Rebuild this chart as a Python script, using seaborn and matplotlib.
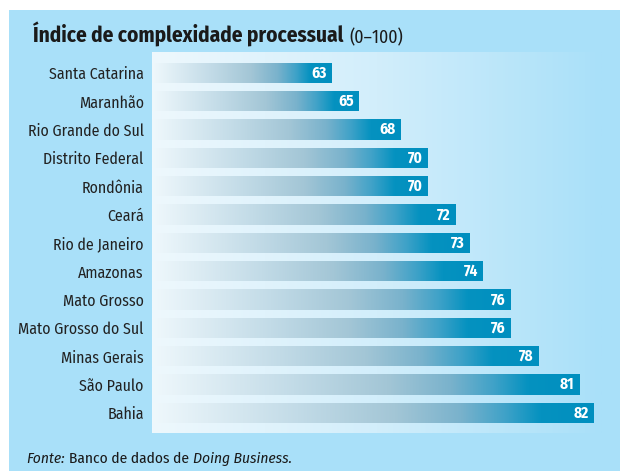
import matplotlib
matplotlib.use('Agg')
import matplotlib.pyplot as plt
import numpy as np
import pandas as pd
import seaborn as sns
from matplotlib import font_manager as fm
from matplotlib.colors import LinearSegmentedColormap
from matplotlib.patches import Rectangle

# dados
estados = [
    'Santa Catarina', 'Maranhão', 'Rio Grande do Sul', 'Distrito Federal',
    'Rondônia', 'Ceará', 'Rio de Janeiro', 'Amazonas', 'Mato Grosso',
    'Mato Grosso do Sul', 'Minas Gerais', 'São Paulo', 'Bahia',
]
indice = [63, 65, 68, 70, 70, 72, 73, 74, 76, 76, 78, 81, 82]

BG = '#a9e0f9'
W, H = 620, 471

df = pd.DataFrame({'Estado': estados, 'Indice': indice})

# fonte estreita parecida com Frutiger Condensed, se houver
disponiveis = {f.name for f in fm.fontManager.ttflist}
preferidas = ['Fira Sans Condensed', 'Roboto Condensed', 'Open Sans Condensed',
              'Asap Condensed', 'Encode Sans Condensed', 'PT Sans Narrow',
              'Liberation Sans Narrow']
familia = [f for f in preferidas if f in disponiveis][:1] + ['DejaVu Sans']

sns.set_theme(style='white')
plt.rcParams['font.family'] = familia

fig = plt.figure(figsize=(W / 100, H / 100), dpi=100, facecolor='white')
# painel azul de fundo
fig.patches.append(Rectangle((9 / W, 0), 1, (H - 10) / H, transform=fig.transFigure,
                             facecolor=BG, edgecolor='none', zorder=-5))

ax = fig.add_axes([152 / W, (H - 433) / H, (602 - 152) / W, (433 - 52) / H])
ax.set_facecolor('none')

sns.barplot(data=df, x='Indice', y='Estado', orient='h', width=0.72,
            color='#0090c0', ax=ax, zorder=2)

xmin, xmax = 50, 82.63

# gradiente do painel interno
panel_cmap = LinearSegmentedColormap.from_list('panel', ['#eef8fd', '#d2eefb', BG])
ax.imshow(np.linspace(0, 1, 256).reshape(1, -1), cmap=panel_cmap, aspect='auto',
          extent=[xmin, xmax, 12.71, -0.74], zorder=0)

bar_cmap = LinearSegmentedColormap.from_list('bar', [
    (0.0, '#eff8fc'), (0.33, '#c2dbe7'), (0.55, '#a3c6d6'),
    (0.70, '#79b2cc'), (0.80, '#3fa2c8'), (0.88, '#0592c0'), (1.0, '#008fbf'),
])
grad = np.linspace(0, 1, 256).reshape(1, -1)
for p in list(ax.patches):
    x0, y0 = p.get_x(), p.get_y()
    w, h = p.get_width(), p.get_height()
    p.set_facecolor('none')
    p.set_edgecolor('none')
    im = ax.imshow(grad, cmap=bar_cmap, aspect='auto',
                   extent=[xmin, x0 + w, y0 + h, y0], zorder=2)
    im.set_clip_path(p)

for i, v in enumerate(indice):
    ax.text(v - 0.35, i, str(v), ha='right', va='center', color='white',
            fontweight='bold', fontsize=11, zorder=3)

ax.set_xlim(xmin, xmax)
ax.set_ylim(12.71, -0.74)
ax.set_xlabel('')
ax.set_ylabel('')
ax.set_xticks([])
for s in ax.spines.values():
    s.set_visible(False)
ax.tick_params(axis='y', length=0, pad=6, labelsize=11.4, labelcolor='#222222')

# título
t1 = fig.text(33 / W, 1 - 47 / H, 'Índice de complexidade processual', fontsize=15.3,
              fontweight='bold', color='#1a1a1a', ha='left', va='bottom')
ax.annotate('(0–100)', xy=(1, 0), xycoords=t1, xytext=(4, 0), textcoords='offset points',
            fontsize=12.8, color='#1a1a1a', ha='left', va='bottom', annotation_clip=False)

# fonte
f1 = fig.text(26 / W, 1 - 466 / H, 'Fonte:', fontsize=11.1, style='italic',
              color='#1a1a1a', ha='left', va='bottom')
f2 = ax.annotate('Banco de dados de', xy=(1, 0), xycoords=f1, xytext=(3, 0),
                 textcoords='offset points', fontsize=11.1, color='#1a1a1a',
                 ha='left', va='bottom', annotation_clip=False)
ax.annotate('Doing Business.', xy=(1, 0), xycoords=f2, xytext=(3, 0),
            textcoords='offset points', fontsize=11.1, style='italic', color='#1a1a1a',
            ha='left', va='bottom', annotation_clip=False)

fig.savefig('out.png', dpi=100, facecolor=fig.get_facecolor())
